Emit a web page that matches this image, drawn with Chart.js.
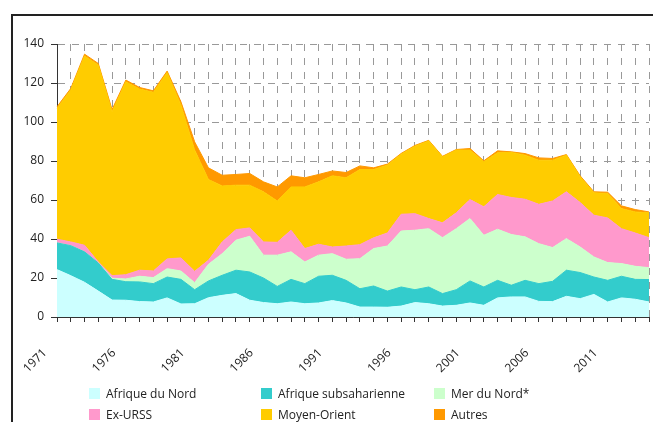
<!DOCTYPE html>
<html>
<head>
<meta charset="utf-8">
<script src="https://cdn.jsdelivr.net/npm/chart.js@4/dist/chart.umd.min.js"></script>
<style>
  html, body { margin: 0; padding: 0; background: #fff; overflow: hidden; }
  #wrap { position: relative; width: 653px; height: 422px; }
  #frame { position: absolute; left: 11px; top: 14px; width: 700px; height: 500px;
           border-left: 2px solid #222; border-top: 2px solid #222; }
  #chartBox { position: absolute; left: 0; top: 0; width: 653px; height: 422px; }
  #legend { position: absolute; left: 0; top: 0; width: 653px; height: 422px; pointer-events: none;
            font-family: "Open Sans", sans-serif; font-size: 12px; color: #222; }
  .item { position: absolute; height: 14px; display: flex; align-items: center; white-space: nowrap; }
  .swatch { width: 11px; height: 11px; margin-right: 6px; }
</style>
</head>
<body>
<div id="wrap">
  <div id="frame"></div>
  <div id="chartBox"><canvas id="chart"></canvas></div>
  <div id="legend"></div>
</div>
<script>
// categories
const years = ['1971', '1972', '1973', '1974', '1975', '1976', '1977', '1978', '1979', '1980',
  '1981', '1982', '1983', '1984', '1985', '1986', '1987', '1988', '1989', '1990',
  '1991', '1992', '1993', '1994', '1995', '1996', '1997', '1998', '1999', '2000',
  '2001', '2002', '2003', '2004', '2005', '2006', '2007', '2008', '2009', '2010',
  '2011', '2012', '2013', '2014'];
const tickLabels = ['1971', '1976', '1981', '1986', '1991', '1996', '2001', '2006', '2011'];
const yTicks = [0, 20, 40, 60, 80, 100, 120, 140];

// series (stacked, bottom to top)
const afriqueNord = [24.3, 21.2, 17.8, 13.3, 8.7, 8.6, 7.9, 7.7, 9.8, 6.7, 6.8, 9.9, 11.1, 12.0, 8.6, 7.4, 6.8, 7.7, 6.8, 7.2, 8.4, 7.2, 5.1, 5.1, 5.0, 5.6, 7.4, 6.8, 5.6, 6.0, 7.2, 6.0, 9.8, 10.3, 10.3, 8.0, 7.9, 10.6, 9.4, 11.6, 7.7, 9.8, 9.1, 7.7];
const afriqueSub = [13.7, 15.4, 15.6, 14.4, 10.6, 9.5, 10.1, 9.4, 10.7, 12.6, 7.2, 8.6, 10.3, 12.0, 14.5, 12.6, 8.9, 11.6, 10.3, 13.7, 13.0, 11.6, 9.4, 10.8, 8.3, 9.8, 6.6, 8.6, 6.4, 8.0, 11.3, 9.4, 9.0, 6.0, 8.5, 9.1, 10.4, 13.4, 13.4, 8.9, 11.1, 11.1, 10.2, 11.5];
const merNord = [0, 0, 0, 0, 0.6, 1.4, 2.9, 3.1, 4.3, 4.3, 3.6, 8.5, 11.1, 15.4, 18.3, 11.7, 16.0, 14.1, 11.1, 10.8, 11.1, 10.8, 15.4, 19.2, 23.1, 28.7, 30.5, 29.9, 28.7, 31.3, 32.0, 26.5, 26.2, 26.0, 22.3, 20.5, 17.3, 16.2, 13.1, 10.3, 9.1, 6.5, 6.7, 6.1];
const exUrss = [1.9, 1.9, 3.4, 0.5, 1.3, 2.2, 3.1, 3.4, 5.0, 6.7, 5.8, 2.1, 6.0, 5.4, 4.3, 6.8, 6.6, 11.1, 6.9, 5.6, 3.4, 6.8, 7.2, 5.5, 6.7, 8.6, 8.5, 5.2, 7.6, 8.1, 9.7, 14.6, 17.8, 19.0, 19.3, 20.2, 23.9, 24.0, 22.8, 21.4, 22.9, 17.9, 17.1, 15.4];
const moyenOrient = [67.1, 77.9, 97.0, 101.0, 84.0, 98.9, 92.9, 91.6, 95.5, 78.4, 62.2, 41.4, 28.7, 22.8, 21.9, 25.7, 21.2, 22.2, 31.6, 32.0, 36.5, 35.0, 38.5, 35.0, 34.8, 30.8, 34.6, 39.8, 33.8, 32.2, 25.4, 23.1, 21.4, 23.1, 22.6, 22.6, 20.9, 18.8, 13.2, 11.5, 12.5, 10.3, 10.8, 12.7];
const autres = [0.8, 0.8, 1.0, 0.8, 1.2, 0.9, 0.8, 0.8, 0.8, 1.7, 4.2, 6.0, 5.5, 5.5, 6.0, 5.1, 7.2, 5.7, 4.7, 3.8, 2.5, 2.7, 1.9, 0.9, 0.5, 0.4, 0.4, 0.3, 0.3, 0.3, 0.8, 0.5, 1.0, 0.3, 0.8, 1.2, 0.9, 0.3, 0.5, 0.5, 0.7, 1.4, 1.2, 0.5];

const seriesLabels = ['Afrique du Nord', 'Afrique subsaharienne', 'Mer du Nord*', 'Ex-URSS', 'Moyen-Orient', 'Autres'];
const seriesData = [afriqueNord, afriqueSub, merNord, exUrss, moyenOrient, autres];
const colors = ['#ccffff', '#33cccc', '#ccffcc', '#ff99cc', '#ffcc00', '#ff9900'];

const font = { family: 'Open Sans', size: 12 };

const datasets = seriesData.map((d, i) => ({
  label: seriesLabels[i],
  data: d,
  backgroundColor: colors[i],
  borderColor: colors[i],
  borderWidth: 1,
  pointRadius: 0,
  tension: 0,
  fill: i === 0 ? 'origin' : '-1'
}));

const chart = new Chart(document.getElementById('chart'), {
  type: 'line',
  data: { labels: years, datasets: datasets },
  options: {
    responsive: true,
    maintainAspectRatio: false,
    animation: false,
    layout: { padding: { left: 0, top: 44, right: 4, bottom: 0 } },
    plugins: { legend: { display: false }, tooltip: { enabled: false } },
    scales: {
      x: {
        ticks: {
          autoSkip: false, minRotation: 45, maxRotation: 45,
          labelOffset: -12, padding: 24, color: '#222', font: font,
          callback: function (v) {
            const l = this.getLabelForValue(v);
            return tickLabels.includes(l) ? l : '';
          }
        },
        grid: { color: '#999', tickColor: '#333', tickLength: 5 },
        border: { color: '#333', dash: [7, 7] },
        afterFit: s => { s.height = 105; s.paddingLeft = 0; s.paddingRight = 0; }
      },
      y: {
        stacked: true,
        min: yTicks[0],
        max: yTicks[yTicks.length - 1],
        afterBuildTicks: s => { s.ticks = yTicks.map(v => ({ value: v })); },
        ticks: { padding: 7, color: '#222', font: font },
        grid: { color: '#999', tickColor: '#333', tickLength: 6 },
        border: { color: '#333', dash: [7, 7] },
        afterFit: s => { s.width = 57; }
      }
    }
  }
});

// legend, 3 columns x 2 rows
const legendCols = [89, 261, 434];
const legendRows = [386, 407];
const legend = document.getElementById('legend');
chart.data.datasets.forEach((ds, i) => {
  const item = document.createElement('div');
  item.className = 'item';
  item.style.left = legendCols[i % 3] + 'px';
  item.style.top = legendRows[Math.floor(i / 3)] + 'px';
  const sw = document.createElement('span');
  sw.className = 'swatch';
  sw.style.background = ds.backgroundColor;
  const tx = document.createElement('span');
  tx.textContent = ds.label;
  item.appendChild(sw);
  item.appendChild(tx);
  legend.appendChild(item);
});
</script>
</body>
</html>
